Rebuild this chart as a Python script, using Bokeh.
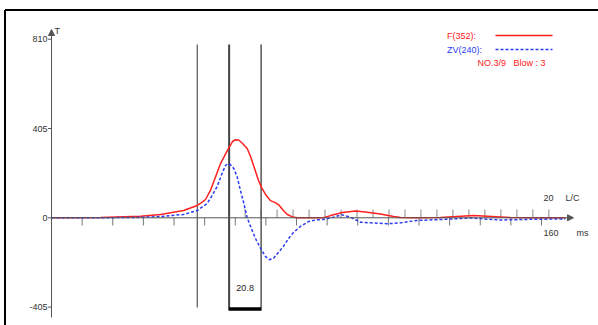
from bokeh.plotting import figure
from bokeh.models import Range1d, Arrow, NormalHead
from bokeh.core.properties import value
from bokeh.embed import file_html
from bokeh.resources import INLINE

# ---------------- data ----------------
time_f = [0, 16.0, 29.1, 35.6, 43.1, 47.6, 49.0, 50.3, 51.9, 54.1, 55.2, 57.4, 59.1,
          60.1, 61.1, 62.4, 63.9, 65.0, 66.3, 67.6, 68.6, 69.9, 71.5, 73.1, 74.4,
          75.7, 77.0, 78.7, 80.3, 88.8, 91.1, 95.0, 99.3, 102.5, 107.4, 111.7, 114.0,
          119.4, 127.0, 137.8, 149.9, 156.4, 167.8]
force = [0, 1, 7, 15, 33, 56, 69, 83, 124, 205, 246, 305, 346,
         354, 353, 337, 314, 278, 224, 169, 137, 106, 78, 69, 56,
         33, 15, 4, 0, 0, 10, 24, 31, 26, 17, 6, 1,
         0, 1, 10, 1, 0, 0]

time_v = [0, 16.0, 29.1, 35.6, 43.1, 47.6, 49.0, 50.8, 51.9, 54.1, 55.7, 56.8, 57.6,
          58.4, 59.5, 60.6, 61.7, 62.8, 63.9, 65.0, 66.6, 68.3, 69.9, 71.2, 72.5,
          74.1, 75.7, 77.4, 79.0, 81.3, 83.9, 86.5, 88.8, 92.1, 94.8, 97.6, 100.9,
          104.2, 109.6, 114.0, 119.4, 127.0, 136.8, 146.6, 156.4, 167.8]
zv = [0, 0, 2, 6, 15, 33, 47, 65, 88, 142, 201, 237, 245,
      242, 224, 187, 124, 65, 0, -39, -94, -139, -176, -190, -183,
      -157, -130, -94, -67, -39, -17, -9, -8, 3, 14, 3, -20,
      -23, -27, -23, -12, -8, -1, -10, -7, -5]

y_ticks = [810, 405, 0, -405]
ms_ticks = list(range(10, 161, 10))
marker_lines = [47.6, 58.0, 68.45]   # ms
lc_ms = 5.22                           # one L/C in ms
lc_count = 20
box_label = "20.8"
f_label = "F(352):"
v_label = "ZV(240):"
info_label = "NO.3/9\u00a0\u00a0\u00a0Blow\u00a0:\u00a03"

# ---------------- layout helpers (pixel -> data) ----------------
PX0, PXS = 51.0, 3.0625
PY0, PYS = 217.3, 405.0 / 89.3

def X(px):
    return (px - PX0) / PXS

def Y(py):
    return (PY0 - py) * PYS

W, H = 598, 325
p = figure(width=W, height=H, output_backend="svg", toolbar_location=None,
           x_range=Range1d(X(0), X(W)), y_range=Range1d(Y(H), Y(0)),
           x_axis_type=None, y_axis_type=None, min_border=0)
p.outline_line_color = None
p.xgrid.visible = False
p.ygrid.visible = False
p.background_fill_color = "white"
p.border_fill_color = "white"

FONT = value("Liberation Sans")
AX = "#555555"

# outer frame (left + top)
p.segment(x0=[X(4.5), X(4.5)], y0=[Y(9.5), Y(9.5)], x1=[X(4.5), X(W + 5)], y1=[Y(H + 5), Y(9.5)],
          line_color="black", line_width=2)

# axes with arrows
p.add_layout(Arrow(end=NormalHead(size=6, fill_color=AX, line_color=AX),
                   x_start=0, y_start=Y(317), x_end=0, y_end=Y(29),
                   line_color=AX, line_width=1))
p.add_layout(Arrow(end=NormalHead(size=6, fill_color=AX, line_color=AX),
                   x_start=0, y_start=0, x_end=X(573), y_end=0,
                   line_color=AX, line_width=1))

# y ticks + labels
p.segment(x0=[X(47.5)] * len(y_ticks), y0=y_ticks, x1=[0] * len(y_ticks), y1=y_ticks,
          line_color=AX, line_width=1)
p.text(x=[X(47)] * len(y_ticks), y=y_ticks, text=[str(v) for v in y_ticks],
       text_align="right", text_baseline="middle", text_font=FONT,
       text_font_size="9px", text_color="#333333")
p.text(x=[X(54)], y=[Y(30)], text=["T"], text_align="left", text_baseline="middle",
       text_font=FONT, text_font_size="9px", text_color="#333333")

# ms ticks (below axis)
p.segment(x0=ms_ticks, y0=[0] * len(ms_ticks), x1=ms_ticks, y1=[Y(225)] * len(ms_ticks),
          line_color="#777777", line_width=1)
# L/C ticks (above axis)
lc_ticks = [marker_lines[1] + k * lc_ms for k in range(1, lc_count + 1)]
p.segment(x0=lc_ticks, y0=[0] * len(lc_ticks), x1=lc_ticks, y1=[Y(209)] * len(lc_ticks),
          line_color="#888888", line_width=1)

# marker lines
p.segment(x0=[marker_lines[0]], y0=[Y(44)], x1=[marker_lines[0]], y1=[Y(307)],
          line_color="#555555", line_width=1.2)
p.segment(x0=[marker_lines[1]], y0=[Y(44)], x1=[marker_lines[1]], y1=[Y(310)],
          line_color="#444444", line_width=2)
p.segment(x0=[marker_lines[2]], y0=[Y(44)], x1=[marker_lines[2]], y1=[Y(310)],
          line_color="#555555", line_width=1.5)
p.segment(x0=[marker_lines[1]], y0=[Y(308.5)], x1=[marker_lines[2]], y1=[Y(308.5)],
          line_color="black", line_width=3.5)
p.text(x=[(marker_lines[1] + marker_lines[2]) / 2], y=[Y(287)], text=[box_label],
       text_align="center", text_baseline="middle", text_font=FONT,
       text_font_size="9px", text_color="#222222")

# curves
RED = "#ff2020"
BLUE = "#2a3cf0"
p.line(time_f, force, line_color=RED, line_width=1.5, line_join="round")
p.line(time_v, zv, line_color=BLUE, line_width=1.5, line_dash="3 2", line_join="round")

# legend
p.text(x=[X(446.5)], y=[Y(35)], text=[f_label], text_align="left", text_baseline="middle",
       text_font=FONT, text_font_size="9px", text_color=RED)
p.text(x=[X(446.5)], y=[Y(49)], text=[v_label], text_align="left", text_baseline="middle",
       text_font=FONT, text_font_size="9px", text_color=BLUE)
p.segment(x0=[X(495)], y0=[Y(35)], x1=[X(552)], y1=[Y(35)], line_color=RED, line_width=1.5)
p.segment(x0=[X(495)], y0=[Y(49)], x1=[X(552)], y1=[Y(49)], line_color=BLUE,
          line_width=1.5, line_dash="3 2")
p.text(x=[X(477)], y=[Y(62)], text=[info_label], text_align="left", text_baseline="middle",
       text_font=FONT, text_font_size="9px", text_color=RED)

# axis end labels
p.text(x=[X(543), X(565)], y=[Y(197), Y(197)], text=[str(lc_count), "L/C"],
       text_align="left", text_baseline="middle", text_font=FONT,
       text_font_size="9px", text_color="#333333")
p.text(x=[X(543), X(576)], y=[Y(232), Y(232)], text=[str(ms_ticks[-1]), "ms"],
       text_align="left", text_baseline="middle", text_font=FONT,
       text_font_size="9px", text_color="#333333")

open("out.html", "w").write(file_html(p, INLINE))
